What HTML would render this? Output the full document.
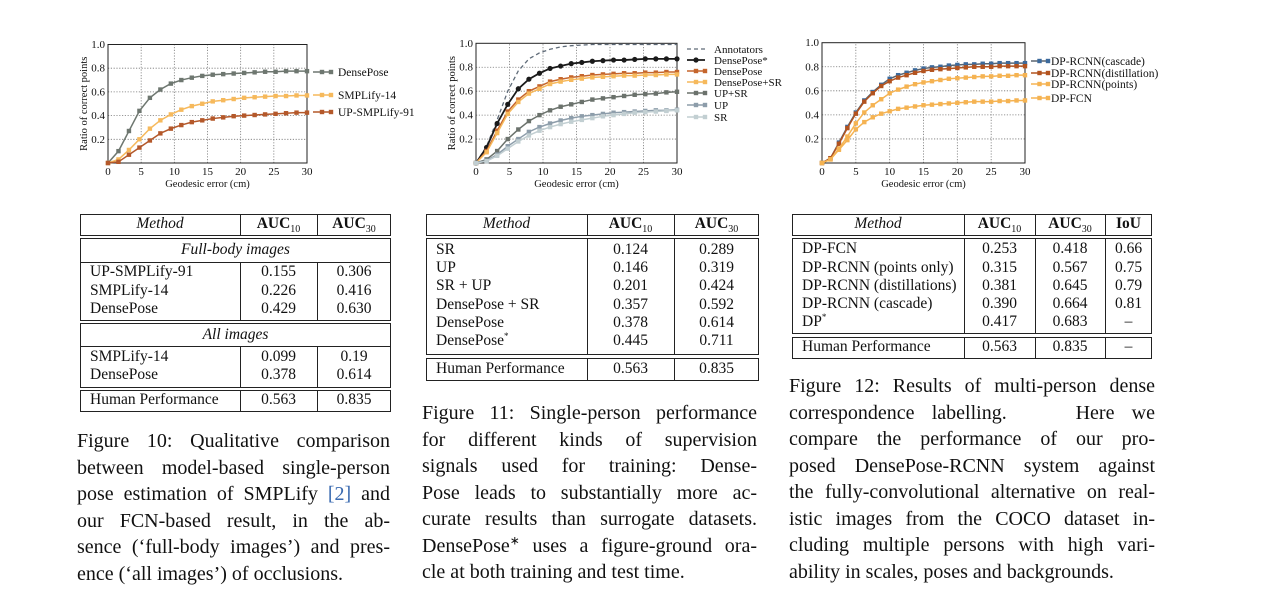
<!DOCTYPE html>
<html><head><meta charset="utf-8">
<style>
body{margin:0;width:1272px;height:613px;background:#fff;position:relative;overflow:hidden;font-family:"Liberation Serif",serif;color:#111}
svg{position:absolute;left:0;top:0}
.t{position:absolute;border:1.3px solid #222;box-sizing:border-box}
.c{position:absolute;font-size:15.5px;line-height:18px;white-space:nowrap}
.cap{position:absolute;font-size:20px;line-height:26.5px}
.cap div{text-align:justify;text-align-last:justify;white-space:nowrap;height:26.5px}
.cap div.l{text-align-last:left}
sup{line-height:0}
.vl{position:absolute;border-left:1.3px solid #222}
</style></head><body>
<svg id="charts" width="1272" height="200"></svg>

<!-- Table 1 -->
<div>
<div class="t" style="left:80px;top:214px;width:311px;height:22px"></div>
<div class="vl" style="left:240px;top:214px;height:22px"></div><div class="vl" style="left:317px;top:214px;height:22px"></div>
<div class="c" style="left:80px;width:160px;top:215px;text-align:center;font-style:italic">Method</div>
<div class="c" style="left:240px;width:77px;top:215px;text-align:center;font-weight:bold">AUC<sub style="font-size:10px;font-weight:normal;line-height:0">10</sub></div>
<div class="c" style="left:317px;width:74px;top:215px;text-align:center;font-weight:bold">AUC<sub style="font-size:10px;font-weight:normal;line-height:0">30</sub></div>
<div class="t" style="left:80px;top:238px;width:311px;height:83px"></div>
<div style="position:absolute;left:80px;top:262px;width:311px;border-top:1.3px solid #222"></div>
<div class="vl" style="left:240px;top:262px;height:59px"></div><div class="vl" style="left:317px;top:262px;height:59px"></div>
<div class="c" style="left:80px;width:311px;top:241px;text-align:center;font-style:italic">Full-body images</div>
<div class="c" style="left:90px;top:263px">UP-SMPLify-91</div><div class="c" style="left:240px;width:77px;text-align:center;top:263px">0.155</div><div class="c" style="left:317px;width:74px;text-align:center;top:263px">0.306</div>
<div class="c" style="left:90px;top:282px">SMPLify-14</div><div class="c" style="left:240px;width:77px;text-align:center;top:282px">0.226</div><div class="c" style="left:317px;width:74px;text-align:center;top:282px">0.416</div>
<div class="c" style="left:90px;top:300px">DensePose</div><div class="c" style="left:240px;width:77px;text-align:center;top:300px">0.429</div><div class="c" style="left:317px;width:74px;text-align:center;top:300px">0.630</div>
<div class="t" style="left:80px;top:323px;width:311px;height:65px"></div>
<div style="position:absolute;left:80px;top:346px;width:311px;border-top:1.3px solid #222"></div>
<div class="vl" style="left:240px;top:346px;height:42px"></div><div class="vl" style="left:317px;top:346px;height:42px"></div>
<div class="c" style="left:80px;width:311px;top:326px;text-align:center;font-style:italic">All images</div>
<div class="c" style="left:90px;top:348px">SMPLify-14</div><div class="c" style="left:240px;width:77px;text-align:center;top:348px">0.099</div><div class="c" style="left:317px;width:74px;text-align:center;top:348px">0.19</div>
<div class="c" style="left:90px;top:366px">DensePose</div><div class="c" style="left:240px;width:77px;text-align:center;top:366px">0.378</div><div class="c" style="left:317px;width:74px;text-align:center;top:366px">0.614</div>
<div class="t" style="left:80px;top:390px;width:311px;height:22px"></div>
<div class="vl" style="left:240px;top:390px;height:22px"></div><div class="vl" style="left:317px;top:390px;height:22px"></div>
<div class="c" style="left:90px;top:391px">Human Performance</div><div class="c" style="left:240px;width:77px;text-align:center;top:391px">0.563</div><div class="c" style="left:317px;width:74px;text-align:center;top:391px">0.835</div>
</div>

<!-- Table 2 -->
<div>
<div class="t" style="left:426px;top:214px;width:333px;height:22px"></div>
<div class="vl" style="left:587px;top:214px;height:22px"></div><div class="vl" style="left:674px;top:214px;height:22px"></div>
<div class="c" style="left:426px;width:161px;top:215px;text-align:center;font-style:italic">Method</div>
<div class="c" style="left:587px;width:87px;top:215px;text-align:center;font-weight:bold">AUC<sub style="font-size:10px;font-weight:normal;line-height:0">10</sub></div>
<div class="c" style="left:674px;width:85px;top:215px;text-align:center;font-weight:bold">AUC<sub style="font-size:10px;font-weight:normal;line-height:0">30</sub></div>
<div class="t" style="left:426px;top:238px;width:333px;height:117px"></div>
<div class="vl" style="left:587px;top:238px;height:117px"></div><div class="vl" style="left:674px;top:238px;height:117px"></div>
<div class="c" style="left:436px;top:241px">SR</div><div class="c" style="left:587px;width:87px;text-align:center;top:241px">0.124</div><div class="c" style="left:674px;width:85px;text-align:center;top:241px">0.289</div>
<div class="c" style="left:436px;top:259px">UP</div><div class="c" style="left:587px;width:87px;text-align:center;top:259px">0.146</div><div class="c" style="left:674px;width:85px;text-align:center;top:259px">0.319</div>
<div class="c" style="left:436px;top:277px">SR + UP</div><div class="c" style="left:587px;width:87px;text-align:center;top:277px">0.201</div><div class="c" style="left:674px;width:85px;text-align:center;top:277px">0.424</div>
<div class="c" style="left:436px;top:296px">DensePose + SR</div><div class="c" style="left:587px;width:87px;text-align:center;top:296px">0.357</div><div class="c" style="left:674px;width:85px;text-align:center;top:296px">0.592</div>
<div class="c" style="left:436px;top:314px">DensePose</div><div class="c" style="left:587px;width:87px;text-align:center;top:314px">0.378</div><div class="c" style="left:674px;width:85px;text-align:center;top:314px">0.614</div>
<div class="c" style="left:436px;top:332px">DensePose<sup style="font-size:9px">*</sup></div><div class="c" style="left:587px;width:87px;text-align:center;top:332px">0.445</div><div class="c" style="left:674px;width:85px;text-align:center;top:332px">0.711</div>
<div class="t" style="left:426px;top:358px;width:333px;height:23px"></div>
<div class="vl" style="left:587px;top:358px;height:23px"></div><div class="vl" style="left:674px;top:358px;height:23px"></div>
<div class="c" style="left:436px;top:360px">Human Performance</div><div class="c" style="left:587px;width:87px;text-align:center;top:360px">0.563</div><div class="c" style="left:674px;width:85px;text-align:center;top:360px">0.835</div>
</div>

<!-- Table 3 -->
<div>
<div class="t" style="left:792px;top:214px;width:360px;height:22px"></div>
<div class="vl" style="left:964px;top:214px;height:22px"></div><div class="vl" style="left:1035px;top:214px;height:22px"></div><div class="vl" style="left:1105px;top:214px;height:22px"></div>
<div class="c" style="left:792px;width:172px;top:215px;text-align:center;font-style:italic">Method</div>
<div class="c" style="left:964px;width:71px;top:215px;text-align:center;font-weight:bold">AUC<sub style="font-size:10px;font-weight:normal;line-height:0">10</sub></div>
<div class="c" style="left:1035px;width:70px;top:215px;text-align:center;font-weight:bold">AUC<sub style="font-size:10px;font-weight:normal;line-height:0">30</sub></div>
<div class="c" style="left:1105px;width:47px;top:215px;text-align:center;font-weight:bold">IoU</div>
<div class="t" style="left:792px;top:238px;width:360px;height:96px"></div>
<div class="vl" style="left:964px;top:238px;height:96px"></div><div class="vl" style="left:1035px;top:238px;height:96px"></div><div class="vl" style="left:1105px;top:238px;height:96px"></div>
<div class="c" style="left:802px;top:240px">DP-FCN</div><div class="c" style="left:964px;width:71px;text-align:center;top:240px">0.253</div><div class="c" style="left:1035px;width:70px;text-align:center;top:240px">0.418</div><div class="c" style="left:1105px;width:47px;text-align:center;top:240px">0.66</div>
<div class="c" style="left:802px;top:259px">DP-RCNN (points only)</div><div class="c" style="left:964px;width:71px;text-align:center;top:259px">0.315</div><div class="c" style="left:1035px;width:70px;text-align:center;top:259px">0.567</div><div class="c" style="left:1105px;width:47px;text-align:center;top:259px">0.75</div>
<div class="c" style="left:802px;top:277px">DP-RCNN (distillations)</div><div class="c" style="left:964px;width:71px;text-align:center;top:277px">0.381</div><div class="c" style="left:1035px;width:70px;text-align:center;top:277px">0.645</div><div class="c" style="left:1105px;width:47px;text-align:center;top:277px">0.79</div>
<div class="c" style="left:802px;top:295px">DP-RCNN (cascade)</div><div class="c" style="left:964px;width:71px;text-align:center;top:295px">0.390</div><div class="c" style="left:1035px;width:70px;text-align:center;top:295px">0.664</div><div class="c" style="left:1105px;width:47px;text-align:center;top:295px">0.81</div>
<div class="c" style="left:802px;top:313px">DP<sup style="font-size:9px">*</sup></div><div class="c" style="left:964px;width:71px;text-align:center;top:313px">0.417</div><div class="c" style="left:1035px;width:70px;text-align:center;top:313px">0.683</div><div class="c" style="left:1105px;width:47px;text-align:center;top:313px">–</div>
<div class="t" style="left:792px;top:337px;width:360px;height:22px"></div>
<div class="vl" style="left:964px;top:337px;height:22px"></div><div class="vl" style="left:1035px;top:337px;height:22px"></div><div class="vl" style="left:1105px;top:337px;height:22px"></div>
<div class="c" style="left:802px;top:338px">Human Performance</div><div class="c" style="left:964px;width:71px;text-align:center;top:338px">0.563</div><div class="c" style="left:1035px;width:70px;text-align:center;top:338px">0.835</div><div class="c" style="left:1105px;width:47px;text-align:center;top:338px">–</div>
</div>

<div class="cap" style="left:77px;top:428px;width:313px">
<div>Figure 10: Qualitative comparison</div><div>between model-based single-person</div><div>pose estimation of SMPLify <span style="color:#3a6ab0">[2]</span> and</div><div>our FCN-based result, in the ab-</div><div>sence (‘full-body images’) and pres-</div><div class="l">ence (‘all images’) of occlusions.</div>
</div>
<div class="cap" style="left:422px;top:400px;width:335px">
<div>Figure 11: Single-person performance</div><div>for different kinds of supervision</div><div>signals used for training: Dense-</div><div>Pose leads to substantially more ac-</div><div>curate results than surrogate datasets.</div><div>DensePose<sup style="font-size:12px">∗</sup> uses a figure-ground ora-</div><div class="l">cle at both training and test time.</div>
</div>
<div class="cap" style="left:789px;top:373px;width:366px">
<div>Figure 12: Results of multi-person dense</div><div>correspondence labelling. &nbsp;&nbsp; Here we</div><div>compare the performance of our pro-</div><div>posed DensePose-RCNN system against</div><div>the fully-convolutional alternative on real-</div><div>istic images from the COCO dataset in-</div><div>cluding multiple persons with high vari-</div><div class="l">ability in scales, poses and backgrounds.</div>
</div>

<script>
// Chart data
const xTicks = [0,5,10,15,20,25,30];
const yTicks = [0.2,0.4,0.6,0.8,1.0];
const c1Names = ["DensePose","SMPLify-14","UP-SMPLify-91"];
const c1DensePose = [0,0.1,0.27,0.44,0.55,0.62,0.67,0.70,0.72,0.735,0.745,0.75,0.755,0.76,0.765,0.77,0.77,0.775,0.775,0.775];
const c1SMPLify14 = [0,0.03,0.11,0.2,0.29,0.36,0.41,0.45,0.48,0.50,0.52,0.53,0.54,0.55,0.555,0.56,0.565,0.565,0.57,0.57];
const c1UPSMPLify = [0,0.01,0.07,0.13,0.19,0.25,0.29,0.32,0.345,0.36,0.375,0.385,0.395,0.40,0.405,0.41,0.415,0.42,0.425,0.425];
const c2Names = ["Annotators","DensePose*","DensePose","DensePose+SR","UP+SR","UP","SR"];
const c2Annot = [0,0.14,0.36,0.6,0.77,0.87,0.92,0.95,0.97,0.98,0.985,0.99,0.99,0.99,0.99,0.99,0.99,0.99,0.99,0.99];
const c2DPstar = [0,0.13,0.33,0.49,0.62,0.70,0.75,0.79,0.81,0.83,0.84,0.85,0.855,0.86,0.86,0.865,0.87,0.87,0.87,0.87];
const c2DP = [0,0.1,0.27,0.43,0.53,0.6,0.64,0.68,0.70,0.715,0.725,0.735,0.74,0.745,0.75,0.75,0.755,0.755,0.76,0.76];
const c2DPSR = [0,0.09,0.25,0.41,0.51,0.58,0.62,0.66,0.68,0.695,0.705,0.715,0.72,0.725,0.73,0.73,0.735,0.735,0.74,0.74];
const c2UPSR = [0,0.03,0.1,0.2,0.28,0.35,0.40,0.44,0.47,0.49,0.51,0.53,0.54,0.55,0.56,0.57,0.575,0.58,0.59,0.595];
const c2UP = [0,0.02,0.07,0.14,0.2,0.26,0.30,0.33,0.355,0.375,0.39,0.40,0.41,0.42,0.425,0.43,0.435,0.44,0.44,0.445];
const c2SR = [0,0.015,0.06,0.12,0.18,0.23,0.27,0.30,0.325,0.345,0.36,0.375,0.39,0.40,0.41,0.42,0.425,0.43,0.435,0.44];
const c3Names = ["DP-RCNN(cascade)","DP-RCNN(distillation)","DP-RCNN(points)","DP-FCN"];
const c3Cascade = [0,0.04,0.17,0.30,0.42,0.52,0.59,0.65,0.70,0.73,0.75,0.77,0.785,0.795,0.80,0.81,0.815,0.82,0.82,0.825,0.825,0.83,0.83,0.83,0.83];
const c3Distill = [0,0.04,0.16,0.29,0.41,0.51,0.58,0.64,0.68,0.71,0.73,0.75,0.765,0.775,0.78,0.785,0.79,0.795,0.80,0.80,0.80,0.805,0.805,0.805,0.805];
const c3Points = [0,0.03,0.12,0.22,0.33,0.42,0.48,0.53,0.58,0.61,0.635,0.655,0.67,0.68,0.69,0.70,0.705,0.71,0.715,0.72,0.72,0.725,0.725,0.73,0.73];
const c3FCN = [0,0.03,0.11,0.19,0.28,0.34,0.38,0.41,0.43,0.45,0.46,0.47,0.48,0.485,0.49,0.495,0.50,0.505,0.51,0.51,0.51,0.515,0.515,0.52,0.52];

const NS="http://www.w3.org/2000/svg";
const svg=document.getElementById('charts');
function mk(tag,attrs,parent){const e=document.createElementNS(NS,tag);for(const k in attrs)e.setAttribute(k,attrs[k]);(parent||svg).appendChild(e);return e;}

function chart(cfg){
  const g=mk('g',{});
  
  
  const sx=v=>cfg.x0+(cfg.x1-cfg.x0)*v/30;
  const sy=v=>cfg.y0+(cfg.y1-cfg.y0)*v;
  xTicks.forEach(t=>{
    if(t>0&&t<30){const l=mk('line',{x1:sx(t),x2:sx(t),y1:sy(0),y2:sy(1),stroke:'#777','stroke-width':0.8,'stroke-dasharray':'1.2,1.6'},g);}
    const tx=mk('text',{x:sx(t),y:sy(0)+12,'font-size':11,'text-anchor':'middle','font-family':'Liberation Serif, serif',fill:'#111'},g);tx.textContent=t;
    
  });
  yTicks.forEach(t=>{
    if(t<1){const l=mk('line',{x1:sx(0),x2:sx(30),y1:sy(t),y2:sy(t),stroke:'#777','stroke-width':0.8,'stroke-dasharray':'1.2,1.6'},g);}
    const tx=mk('text',{x:sx(0)-3,y:sy(t)+3.5,'font-size':11,'text-anchor':'end','font-family':'Liberation Serif, serif',fill:'#111'},g);tx.textContent=t.toFixed(1);
    
  });
  const fr=mk('rect',{x:sx(0),y:sy(1),width:sx(30)-sx(0),height:sy(0)-sy(1),fill:'none',stroke:'#222','stroke-width':1},g);
  
  const xt=mk('text',{x:(sx(0)+sx(30))/2,y:sy(0)+24,'font-size':10.5,'text-anchor':'middle','font-family':'Liberation Serif, serif',fill:'#111'},g);xt.textContent='Geodesic error (cm)';
  
  if(cfg.ytitle){const yt=mk('text',{x:0,y:0,'font-size':10.5,'text-anchor':'middle','font-family':'Liberation Serif, serif',fill:'#111',transform:`translate(${cfg.ytx},${(sy(0)+sy(1))/2}) rotate(-90)`},g);yt.textContent='Ratio of correct points';
    }
  cfg.series.forEach((s,i)=>{
    const n=s.data.length-1;
    const pts=s.data.map((v,j)=>[sx(30*j/n),sy(v)]);
    const pl=mk('polyline',{points:pts.map(p=>p.join(',')).join(' '),fill:'none',stroke:s.line,'stroke-width':s.w||1.5,'stroke-dasharray':s.dash||'none'},g);
    
    if(s.marker){pts.forEach(p=>{
      let m;
      if(s.marker==='c')m=mk('circle',{cx:p[0],cy:p[1],r:2.6,fill:s.mc},g);
      else m=mk('rect',{x:p[0]-2.2,y:p[1]-2.2,width:4.4,height:4.4,fill:s.mc},g);
      
    });}
    const ly=cfg.legY[i];
    const ll=mk('line',{x1:cfg.legX,x2:cfg.legX+cfg.legW,y1:ly,y2:ly,stroke:s.line,'stroke-width':s.w||1.5,'stroke-dasharray':s.dash||'none'},g);
    
    if(s.marker){let m;const cx=cfg.legX+cfg.legW/2;
      if(s.marker==='c')m=mk('circle',{cx:cx,cy:ly,r:2.6,fill:s.mc},g);else m=mk('rect',{x:cx-2.2,y:ly-2.2,width:4.4,height:4.4,fill:s.mc},g);
      if(s.marker!=='c'){const m2=mk('rect',{x:cfg.legX+cfg.legW-2.2,y:ly-2.2,width:4.4,height:4.4,fill:s.mc},g);}
      }
    const lt=mk('text',{x:cfg.legX+cfg.legW+cfg.legGap,y:ly+3.8,'font-size':cfg.legFs,'font-family':'Liberation Serif, serif',fill:'#111'},g);
    lt.textContent=cfg.names[i];
    
  });
}

chart({name:'chart-fig10',x0:108,x1:307,y0:163,y1:44.5,ytitle:true,ytx:87,names:c1Names,legX:313,legW:18,legGap:7,legFs:11.5,legY:[72,95,112],
  series:[{key:'densepose',data:c1DensePose,line:'#6e7770',mc:'#6e7770',marker:'s'},
          {key:'smplify14',data:c1SMPLify14,line:'#f6b95c',mc:'#f6b95c',marker:'s'},
          {key:'up-smplify91',data:c1UPSMPLify,line:'#b4582a',mc:'#b4582a',marker:'s'}]});
chart({name:'chart-fig11',x0:476,x1:677,y0:163,y1:43.3,ytitle:true,ytx:455,names:c2Names,legX:687,legW:18,legGap:9,legFs:11,legY:[49,60,71,82,93,105,117],
  series:[{key:'annotators',data:c2Annot,line:'#5f6b78',dash:'4,3',w:1.3},
          {key:'densepose-star',data:c2DPstar,line:'#1a1a1a',mc:'#1a1a1a',marker:'c',w:1.8},
          {key:'densepose',data:c2DP,line:'#c5652c',mc:'#c5652c',marker:'s'},
          {key:'densepose-sr',data:c2DPSR,line:'#f6b95c',mc:'#f6b95c',marker:'s'},
          {key:'up-sr',data:c2UPSR,line:'#6b726c',mc:'#6b726c',marker:'s'},
          {key:'up',data:c2UP,line:'#8d9daa',mc:'#8d9daa',marker:'s'},
          {key:'sr',data:c2SR,line:'#c2cfd2',mc:'#c2cfd2',marker:'s'}]});
chart({name:'chart-fig12',x0:822,x1:1025,y0:163,y1:42.7,ytitle:false,names:c3Names,legX:1031,legW:17,legGap:3,legFs:11.5,legY:[61,73,84,98],
  series:[{key:'cascade',data:c3Cascade,line:'#5a6570',mc:'#3c6a9c',marker:'s'},
          {key:'distillation',data:c3Distill,line:'#b3531f',mc:'#b3531f',marker:'s'},
          {key:'points',data:c3Points,line:'#f5b352',mc:'#f5b352',marker:'s'},
          {key:'fcn',data:c3FCN,line:'#f5b352',mc:'#f5b352',marker:'s'}]});
</script>
</body></html>
